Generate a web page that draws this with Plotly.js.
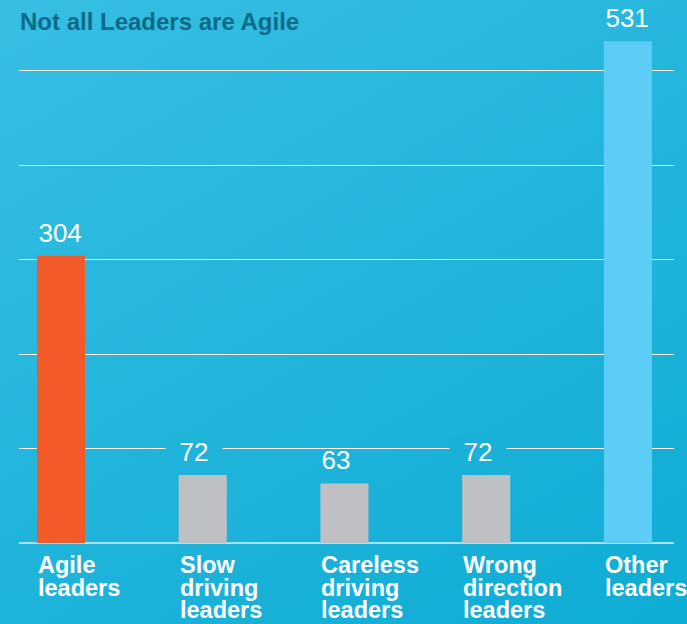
<!DOCTYPE html>
<html>
<head>
<meta charset="utf-8">
<script src="https://cdn.plot.ly/plotly-3.0.1.min.js"></script>
<style>
  html, body { margin: 0; padding: 0; }
  #chart { width: 687px; height: 624px; background: linear-gradient(150deg, #37bee3 0%, #0eacd4 100%); }
</style>
</head>
<body>
<div id="chart"></div>
<script>
// ---- data ----
const chartTitle = "Not all Leaders are Agile";
const categories = ["Agile leaders", "Slow driving leaders", "Careless driving leaders", "Wrong direction leaders", "Other leaders"];
const values = [304, 72, 63, 72, 531];
const barColors = ["#f25a29", "#bfc0c4", "#bfc0c4", "#bfc0c4", "#5bcdf7"];

// ---- layout constants ----
const W = 687, H = 624;
const M = { l: 19, r: 13, t: 0, b: 81 };
const xRange = [-0.296, 4.325];
const yRange = [0, 574.6];
const gridStep = 100;
const barWidth = 0.339;
const FONT = "Liberation Sans, Arial, Helvetica, sans-serif";

// background gradient colour at a pixel (matches CSS 150deg gradient)
function hex2rgb(h) { return [1, 3, 5].map(i => parseInt(h.substr(i, 2), 16)); }
const gA = hex2rgb("#37bee3"), gB = hex2rgb("#0eacd4");
function bgAt(px, py) {
  const a = 150 * Math.PI / 180;
  const dx = Math.sin(a), dy = -Math.cos(a);
  const L = Math.abs(W * dx) + Math.abs(H * dy);
  let t = ((px - W / 2) * dx + (py - H / 2) * dy) / L + 0.5;
  t = Math.max(0, Math.min(1, t));
  const c = gA.map((v, i) => Math.round(v + (gB[i] - v) * t));
  return "rgb(" + c.join(",") + ")";
}
const pw = W - M.l - M.r, ph = H - M.t - M.b;
const pxPerUnit = ph / (yRange[1] - yRange[0]);
const xpx = x => M.l + (x - xRange[0]) / (xRange[1] - xRange[0]) * pw;
const ypx = y => M.t + ph - (y - yRange[0]) * pxPerUnit;

const xs = categories.map((c, i) => i);

const trace = {
  type: "bar",
  x: xs,
  y: values,
  width: barWidth,
  marker: { color: barColors, line: { width: 0 } },
  hoverinfo: "skip"
};

const annotations = [];
const pad = "\u00a0\u2009";
const valueFont = 26;
const labelGap = 13;      // px from bar top to text baseline
const capH = 0.72 * valueFont;
// value labels (left-aligned with the bar); the box hides a gridline only where one runs through the digits
values.forEach((v, i) => {
  const left = xs[i] - barWidth / 2;
  const basePx = ypx(v) - labelGap;
  let crosses = false;
  for (let g = gridStep; g < yRange[1]; g += gridStep) {
    const gy = ypx(g);
    if (gy > basePx - capH - 2 && gy < basePx + 2) crosses = true;
  }
  annotations.push({
    x: left, y: v, xref: "x", yref: "y",
    xanchor: "left", yanchor: "bottom",
    xshift: -13.4, yshift: 6,
    text: pad + String(v) + pad,
    showarrow: false,
    font: { family: FONT, size: valueFont, color: "#ffffff" },
    bgcolor: crosses ? bgAt(xpx(left) + 16, basePx - 9) : "rgba(0,0,0,0)",
    borderpad: 1
  });
});
// category labels, one word per line
categories.forEach((c, i) => {
  const left = xs[i] - barWidth / 2;
  c.split(" ").forEach((w, k) => {
    annotations.push({
      x: left, y: 0, xref: "x", yref: "y",
      xanchor: "left", yanchor: "top",
      xshift: -1, yshift: -7 - k * 22.5,
      text: "<b>" + w + "</b>",
      showarrow: false,
      font: { family: FONT, size: 23.5, color: "#ffffff" }
    });
  });
});
// title
annotations.push({
  x: 0, y: 1, xref: "paper", yref: "paper",
  xanchor: "left", yanchor: "top",
  xshift: -1, yshift: -6,
  text: "<b>" + chartTitle + "</b>",
  showarrow: false,
  font: { family: FONT, size: 24, color: "#0b6a88" }
});

const layout = {
  width: W, height: H,
  margin: M,
  paper_bgcolor: "rgba(0,0,0,0)",
  plot_bgcolor: "rgba(0,0,0,0)",
  showlegend: false,
  xaxis: { range: xRange, showgrid: false, zeroline: false, showticklabels: false, fixedrange: true },
  yaxis: {
    range: yRange, dtick: gridStep, tick0: 0,
    showgrid: true, gridcolor: "#ffffff", gridwidth: 1,
    zeroline: true, zerolinecolor: "#a6e3f4", zerolinewidth: 2,
    showticklabels: false, fixedrange: true
  },
  annotations: annotations
};

Plotly.newPlot("chart", [trace], layout, { displayModeBar: false, staticPlot: true });
</script>
</body>
</html>
